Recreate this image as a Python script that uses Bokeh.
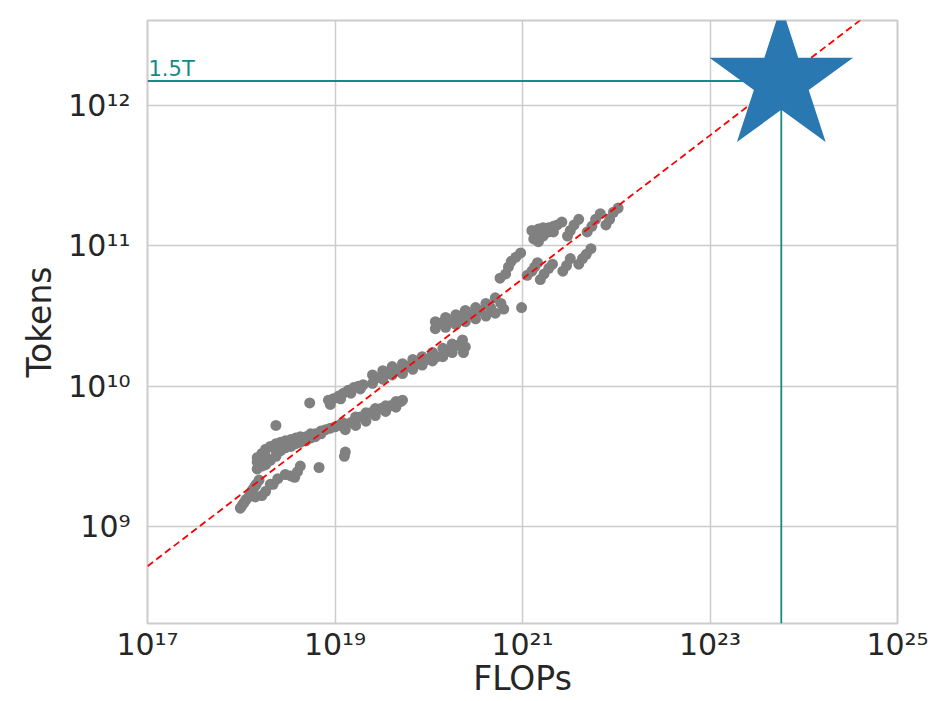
import numpy as np
from bokeh.plotting import figure
from bokeh.models import Range1d, FixedTicker, CustomJSTickFormatter
from bokeh.core.properties import value
from bokeh.embed import file_html
from bokeh.resources import INLINE

# ---- data (log10 of FLOPs and tokens) ----
log_flops = [
    # lowest stroke
    17.99, 18.01, 18.03, 18.05, 18.08, 18.10, 18.12, 18.14, 18.16, 18.19, 18.15, 18.22, 18.26,
    # band around 1e19 (upper)
    18.17, 18.26, 18.37, 18.47, 18.58, 18.69, 18.79, 18.90, 19.00, 19.08,
    18.22, 18.31, 18.42, 18.53, 18.63, 18.74, 18.85, 18.95, 19.04,
    18.17, 18.22, 18.26, 18.31, 18.37, 18.42, 18.47, 18.53, 18.58, 18.63, 18.69, 18.74, 18.79, 18.85,
    18.17, 18.26, 18.37, 18.47, 18.58,
    # isolated
    18.37, 18.83, 19.10, 19.11, 18.73,
    # lower short band
    18.31, 18.34, 18.39, 18.47, 18.53, 18.57, 18.60, 18.63,
    # upper short band near 1e10
    18.93, 18.98, 19.04, 19.09, 19.14, 19.20, 19.25, 19.30,
    18.95, 19.06, 19.17, 19.27,
    # lower band 2
    19.11, 19.22, 19.33, 19.43, 19.54, 19.65, 19.72,
    19.11, 19.22, 19.33, 19.43, 19.54, 19.65,
    19.17, 19.27, 19.38, 19.49, 19.59, 19.70,
    # middle band
    19.40, 19.51, 19.61, 19.72, 19.83, 19.93, 20.04, 20.15, 20.25, 20.36,
    19.40, 19.51, 19.61, 19.72, 19.83, 19.93, 20.04, 20.15, 20.25, 20.37, 20.39,
    19.45, 19.56, 19.67, 19.77, 19.88, 19.98, 20.09, 20.20, 20.30,
    # band 3
    20.07, 20.18, 20.29, 20.39, 20.50, 20.61, 20.71, 20.80,
    20.07, 20.18, 20.29, 20.39, 20.50, 20.61, 20.71,
    20.13, 20.23, 20.34, 20.45, 20.55, 20.66, 20.77,
    20.99,
    # top cluster
    21.10, 21.12, 21.17, 21.17, 21.22, 21.22, 21.28, 21.28, 21.33, 21.37, 21.42,
    21.14, 21.22, 21.33,
    21.48, 21.51, 21.55, 21.60,
    21.69, 21.74, 21.78, 21.83,
    21.89, 21.93, 21.97, 22.02,
    # lower row near 1e11
    20.76, 20.82, 20.85, 20.88, 20.93, 20.98,
    21.05, 21.10, 21.13, 21.16,
    21.19, 21.23, 21.28, 21.32,
    21.43, 21.47, 21.51,
    21.60, 21.64, 21.68, 21.73,
]
log_tokens = [
    9.13, 9.15, 9.17, 9.19, 9.21, 9.24, 9.26, 9.28, 9.30, 9.33, 9.21, 9.22, 9.25,
    9.49, 9.55, 9.59, 9.61, 9.63, 9.64, 9.66, 9.69, 9.71, 9.74,
    9.52, 9.57, 9.60, 9.62, 9.64, 9.66, 9.68, 9.70, 9.72,
    9.41, 9.43, 9.44, 9.47, 9.50, 9.54, 9.56, 9.57, 9.59, 9.60, 9.61, 9.63, 9.64, 9.66,
    9.46, 9.50, 9.54, 9.58, 9.61,
    9.72, 9.42, 9.50, 9.53, 9.88,
    9.30, 9.30, 9.34, 9.37, 9.36, 9.35, 9.39, 9.43,
    9.90, 9.91, 9.93, 9.95, 9.97, 9.99, 10.00, 10.01,
    9.87, 9.91, 9.95, 9.98,
    9.73, 9.78, 9.81, 9.84, 9.86, 9.89, 9.90,
    9.69, 9.72, 9.75, 9.79, 9.82, 9.85,
    9.74, 9.78, 9.81, 9.84, 9.86, 9.89,
    10.08, 10.11, 10.14, 10.16, 10.19, 10.21, 10.24, 10.27, 10.30, 10.33,
    10.02, 10.05, 10.08, 10.09, 10.12, 10.15, 10.18, 10.21, 10.24, 10.24, 10.28,
    10.06, 10.09, 10.11, 10.14, 10.16, 10.19, 10.21, 10.25, 10.29,
    10.46, 10.49, 10.51, 10.54, 10.56, 10.59, 10.63, 10.55,
    10.41, 10.42, 10.44, 10.46, 10.48, 10.50, 10.52,
    10.45, 10.47, 10.49, 10.51, 10.54, 10.56, 10.59,
    10.56,
    11.11, 11.05, 11.03, 11.12, 11.13, 11.08, 11.13, 11.10, 11.14, 11.15, 11.17,
    11.09, 11.07, 11.10,
    11.07, 11.11, 11.15, 11.19,
    11.10, 11.14, 11.19, 11.23,
    11.15, 11.19, 11.24, 11.27,
    10.77, 10.80, 10.85, 10.89, 10.92, 10.95,
    10.79, 10.82, 10.85, 10.88,
    10.76, 10.80, 10.84, 10.87,
    10.82, 10.86, 10.91,
    10.87, 10.91, 10.94, 10.98,
]

fit_flops = [1e17, 1e25]
fit_tokens = [5.2e8, 6.5e12]

opt_flops = 5.76e23
opt_tokens = 1.5e12
opt_label = "1.5T"

x_ticks = [1e17, 1e19, 1e21, 1e23, 1e25]
x_tick_labels = ["10¹⁷", "10¹⁹", "10²¹", "10²³", "10²⁵"]
y_ticks = [1e9, 1e10, 1e11, 1e12]
y_tick_labels = ["10⁹", "10¹⁰", "10¹¹", "10¹²"]
x_lim = (1e17, 1e25)
y_lim = (2.03e8, 4.05e12)

flops = 10 ** np.array(log_flops)
tokens = 10 ** np.array(log_tokens)

FONT = "DejaVu Sans"
TEAL = "#168a86"
TXT = "#262626"

p = figure(width=931, height=700, x_axis_type="log", y_axis_type="log",
           x_range=Range1d(*x_lim), y_range=Range1d(*y_lim),
           output_backend="svg", toolbar_location=None,
           min_border_left=147, min_border_right=34, min_border_top=20,
           min_border_bottom=40, x_axis_label="FLOPs", y_axis_label="Tokens")

p.background_fill_color = "white"
p.border_fill_color = "white"
p.outline_line_color = "#cccccc"
p.outline_line_width = 2

fmt_code = """
const i = t.findIndex(v => Math.abs(Math.log10(v) - Math.log10(tick)) < 1e-6);
return i >= 0 ? labels[i] : "";
"""
p.xaxis.ticker = FixedTicker(ticks=x_ticks, minor_ticks=[])
p.yaxis.ticker = FixedTicker(ticks=y_ticks, minor_ticks=[])
p.xaxis.formatter = CustomJSTickFormatter(args=dict(t=x_ticks, labels=x_tick_labels), code=fmt_code)
p.yaxis.formatter = CustomJSTickFormatter(args=dict(t=y_ticks, labels=y_tick_labels), code=fmt_code)
p.xgrid.ticker = FixedTicker(ticks=x_ticks, minor_ticks=[])
p.ygrid.ticker = FixedTicker(ticks=y_ticks, minor_ticks=[])
p.grid.grid_line_color = "#cccccc"
p.grid.grid_line_width = 1.5

for ax in p.axis:
    ax.axis_line_color = None
    ax.major_tick_line_color = None
    ax.minor_tick_line_color = None
    ax.major_label_text_font = FONT
    ax.major_label_text_font_size = "30px"
    ax.major_label_text_color = TXT
    ax.axis_label_text_font = FONT
    ax.axis_label_text_font_size = "33px"
    ax.axis_label_text_font_style = "normal"
    ax.axis_label_text_color = TXT
p.xaxis.major_label_standoff = -3
p.xaxis.axis_label_standoff = -6
p.yaxis.major_label_standoff = 11
p.yaxis.axis_label_standoff = 6

# teal guide lines
p.line([x_lim[0], opt_flops], [opt_tokens, opt_tokens], line_color=TEAL, line_width=1.8)
p.line([opt_flops, opt_flops], [y_lim[0], opt_tokens], line_color=TEAL, line_width=1.8)
p.text(x=[x_lim[0]], y=[opt_tokens], text=[opt_label], text_font=value(FONT),
       text_font_size="21px", text_color=TEAL, text_baseline="bottom",
       x_offset=1, y_offset=0)

# scatter points
p.scatter(flops, tokens, size=11, fill_color="#808080", line_color=None)

# fit line
p.line(fit_flops, fit_tokens, line_color="red", line_width=1.8, line_dash="7 4")

# star
p.scatter([opt_flops], [opt_tokens], marker="star", size=151,
          fill_color="#2a78b2", line_color=None)

open("out.html", "w").write(file_html(p, INLINE))
